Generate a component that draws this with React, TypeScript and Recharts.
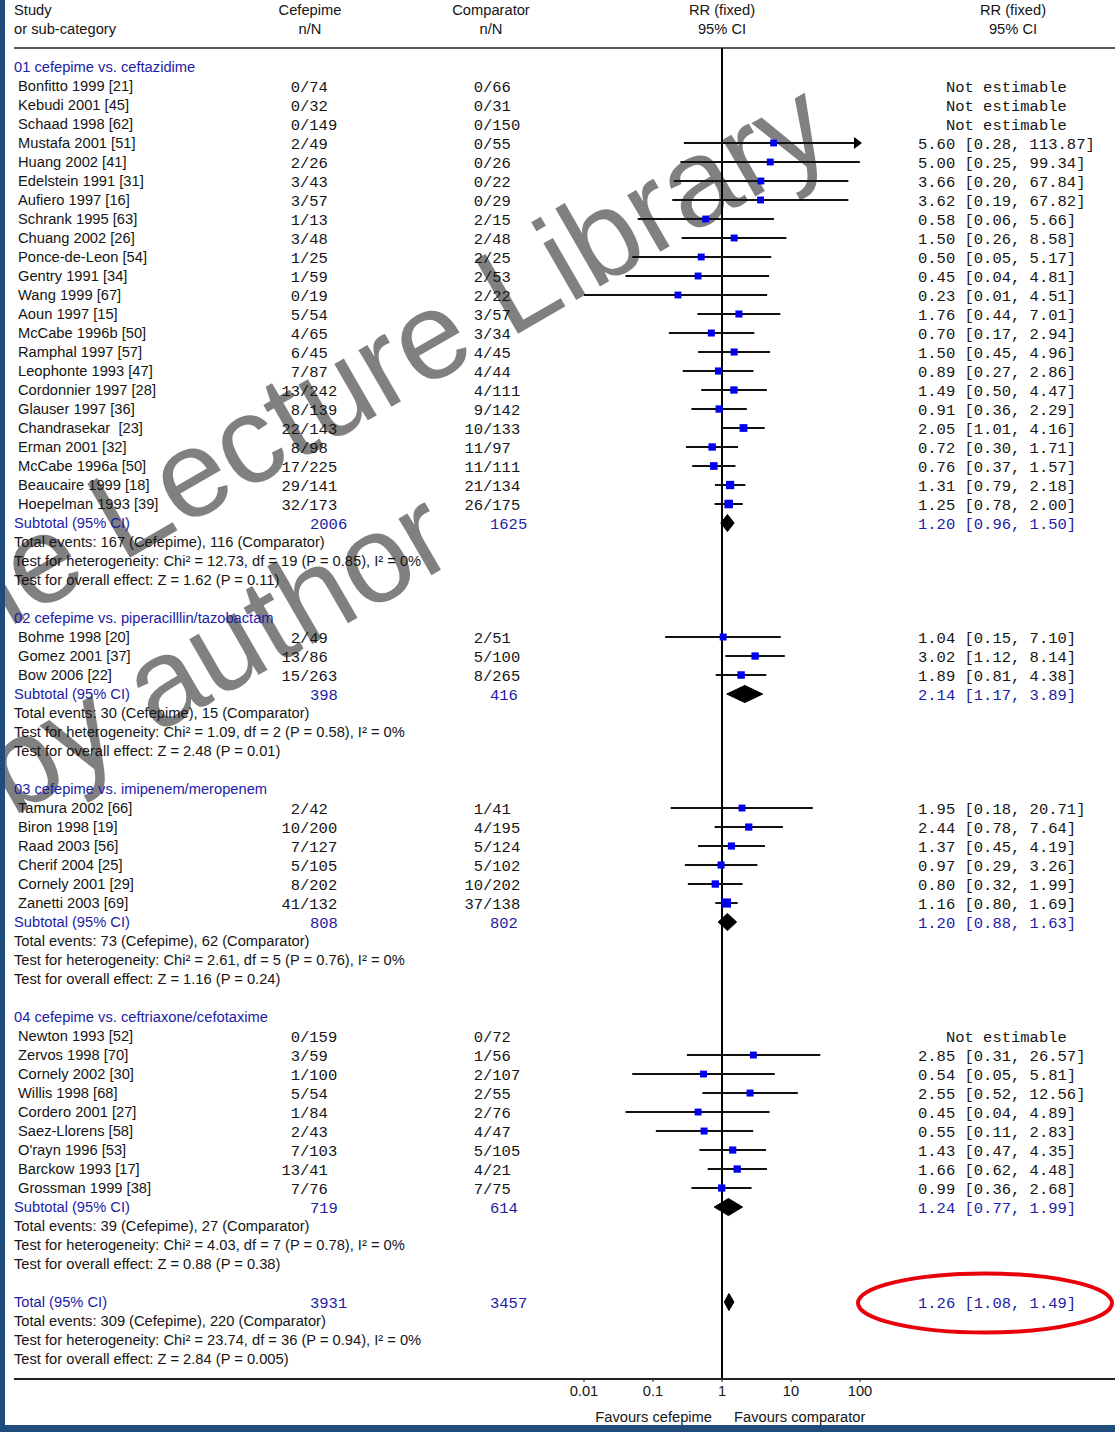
import React from 'react';
import { ComposedChart, XAxis, YAxis, Scatter, ReferenceLine } from 'recharts';

const SANS = '"Liberation Sans", Arial, sans-serif';
const MONO = '"Liberation Mono", "Courier New", monospace';
const BLUE_TEXT = '#1c1ca6';
const INK = '#151515';

// [study, cefepime n, cefepime N, comparator n, comparator N, RR, lower, upper]
type Study = [string, number, number, number, number, number | null, number | null, number | null];

const groupTitles = [
  '01 cefepime vs. ceftazidime',
  '02 cefepime vs. piperacilllin/tazobactam',
  '03 cefepime vs. imipenem/meropenem',
  '04 cefepime vs. ceftriaxone/cefotaxime',
];

const ceftazidimeStudies: Study[] = [
  ['Bonfitto 1999 [21]', 0, 74, 0, 66, null, null, null],
  ['Kebudi 2001 [45]', 0, 32, 0, 31, null, null, null],
  ['Schaad 1998 [62]', 0, 149, 0, 150, null, null, null],
  ['Mustafa 2001 [51]', 2, 49, 0, 55, 5.6, 0.28, 113.87],
  ['Huang 2002 [41]', 2, 26, 0, 26, 5.0, 0.25, 99.34],
  ['Edelstein 1991 [31]', 3, 43, 0, 22, 3.66, 0.2, 67.84],
  ['Aufiero 1997 [16]', 3, 57, 0, 29, 3.62, 0.19, 67.82],
  ['Schrank 1995 [63]', 1, 13, 2, 15, 0.58, 0.06, 5.66],
  ['Chuang 2002 [26]', 3, 48, 2, 48, 1.5, 0.26, 8.58],
  ['Ponce-de-Leon [54]', 1, 25, 2, 25, 0.5, 0.05, 5.17],
  ['Gentry 1991 [34]', 1, 59, 2, 53, 0.45, 0.04, 4.81],
  ['Wang 1999 [67]', 0, 19, 2, 22, 0.23, 0.01, 4.51],
  ['Aoun 1997 [15]', 5, 54, 3, 57, 1.76, 0.44, 7.01],
  ['McCabe 1996b [50]', 4, 65, 3, 34, 0.7, 0.17, 2.94],
  ['Ramphal 1997 [57]', 6, 45, 4, 45, 1.5, 0.45, 4.96],
  ['Leophonte 1993 [47]', 7, 87, 4, 44, 0.89, 0.27, 2.86],
  ['Cordonnier 1997 [28]', 13, 242, 4, 111, 1.49, 0.5, 4.47],
  ['Glauser 1997 [36]', 8, 139, 9, 142, 0.91, 0.36, 2.29],
  ['Chandrasekar  [23]', 22, 143, 10, 133, 2.05, 1.01, 4.16],
  ['Erman 2001 [32]', 8, 98, 11, 97, 0.72, 0.3, 1.71],
  ['McCabe 1996a [50]', 17, 225, 11, 111, 0.76, 0.37, 1.57],
  ['Beaucaire 1999 [18]', 29, 141, 21, 134, 1.31, 0.79, 2.18],
  ['Hoepelman 1993 [39]', 32, 173, 26, 175, 1.25, 0.78, 2.0],
];

const piperacillinStudies: Study[] = [
  ['Bohme 1998 [20]', 2, 49, 2, 51, 1.04, 0.15, 7.1],
  ['Gomez 2001 [37]', 13, 86, 5, 100, 3.02, 1.12, 8.14],
  ['Bow 2006 [22]', 15, 263, 8, 265, 1.89, 0.81, 4.38],
];

const carbapenemStudies: Study[] = [
  ['Tamura 2002 [66]', 2, 42, 1, 41, 1.95, 0.18, 20.71],
  ['Biron 1998 [19]', 10, 200, 4, 195, 2.44, 0.78, 7.64],
  ['Raad 2003 [56]', 7, 127, 5, 124, 1.37, 0.45, 4.19],
  ['Cherif 2004 [25]', 5, 105, 5, 102, 0.97, 0.29, 3.26],
  ['Cornely 2001 [29]', 8, 202, 10, 202, 0.8, 0.32, 1.99],
  ['Zanetti 2003 [69]', 41, 132, 37, 138, 1.16, 0.8, 1.69],
];

const ceftriaxoneStudies: Study[] = [
  ['Newton 1993 [52]', 0, 159, 0, 72, null, null, null],
  ['Zervos 1998 [70]', 3, 59, 1, 56, 2.85, 0.31, 26.57],
  ['Cornely 2002 [30]', 1, 100, 2, 107, 0.54, 0.05, 5.81],
  ['Willis 1998 [68]', 5, 54, 2, 55, 2.55, 0.52, 12.56],
  ['Cordero 2001 [27]', 1, 84, 2, 76, 0.45, 0.04, 4.89],
  ['Saez-Llorens [58]', 2, 43, 4, 47, 0.55, 0.11, 2.83],
  ["O'rayn 1996 [53]", 7, 103, 5, 105, 1.43, 0.47, 4.35],
  ['Barckow 1993 [17]', 13, 41, 4, 21, 1.66, 0.62, 4.48],
  ['Grossman 1999 [38]', 7, 76, 7, 75, 0.99, 0.36, 2.68],
];

// [cefepime N, comparator N, RR, lower, upper]
const subtotals: number[][] = [
  [2006, 1625, 1.2, 0.96, 1.5],
  [398, 416, 2.14, 1.17, 3.89],
  [808, 802, 1.2, 0.88, 1.63],
  [719, 614, 1.24, 0.77, 1.99],
];
const overallTotal: number[] = [3931, 3457, 1.26, 1.08, 1.49];

// [cefepime events, comparator events]; last entry is the overall total
const totalEvents: number[][] = [[167, 116], [30, 15], [73, 62], [39, 27], [309, 220]];
const heterogeneity = [
  'Chi² = 12.73, df = 19 (P = 0.85), I² = 0%',
  'Chi² = 1.09, df = 2 (P = 0.58), I² = 0%',
  'Chi² = 2.61, df = 5 (P = 0.76), I² = 0%',
  'Chi² = 4.03, df = 7 (P = 0.78), I² = 0%',
  'Chi² = 23.74, df = 36 (P = 0.94), I² = 0%',
];
const overallEffect = [
  'Z = 1.62 (P = 0.11)',
  'Z = 2.48 (P = 0.01)',
  'Z = 1.16 (P = 0.24)',
  'Z = 0.88 (P = 0.38)',
  'Z = 2.84 (P = 0.005)',
];

const xTicks = [0.01, 0.1, 1, 10, 100];

// ---- layout ----
const W = 1115;
const H = 1432;
const LEFT = 14;
const TOP = 48;
const AXIS_Y = 1379;
const X0 = 722; // pixel of RR = 1
const DECADE = 69;
const X_MIN = -(X0 - LEFT) / DECADE;
const X_MAX = (W - X0) / DECADE;
const Y_MAX = 69.05;
const CLIP_HI = 2; // log10(100)

const SLASH_CEF = 300;
const SLASH_COMP = 483;
const SUB_CEF = 310;
const SUB_COMP = 490;
const RR_COL = 918;
const CHAR_W = 9.3;

const lg = (v: number) => Math.log10(v);
const fmt = (v: number) => v.toFixed(2);

type Row = {
  row: number;
  kind: 'header' | 'title' | 'study' | 'subtotal' | 'text';
  label?: string;
  study?: Study;
  tot?: number[];
};

const rows: Row[] = [{ row: -1, kind: 'header' }];
const diamonds: { row: number; t: number[] }[] = [];
let cursor = 0;
[ceftazidimeStudies, piperacillinStudies, carbapenemStudies, ceftriaxoneStudies].forEach((studies, g) => {
  rows.push({ row: cursor++, kind: 'title', label: groupTitles[g] });
  studies.forEach((s) => rows.push({ row: cursor++, kind: 'study', study: s }));
  diamonds.push({ row: cursor, t: subtotals[g] });
  rows.push({ row: cursor++, kind: 'subtotal', label: 'Subtotal (95% CI)', tot: subtotals[g] });
  rows.push({ row: cursor++, kind: 'text', label: `Total events: ${totalEvents[g][0]} (Cefepime), ${totalEvents[g][1]} (Comparator)` });
  rows.push({ row: cursor++, kind: 'text', label: `Test for heterogeneity: ${heterogeneity[g]}` });
  rows.push({ row: cursor++, kind: 'text', label: `Test for overall effect: ${overallEffect[g]}` });
  cursor++;
});
diamonds.push({ row: cursor, t: overallTotal });
rows.push({ row: cursor++, kind: 'subtotal', label: 'Total (95% CI)', tot: overallTotal });
rows.push({ row: cursor++, kind: 'text', label: `Total events: ${totalEvents[4][0]} (Cefepime), ${totalEvents[4][1]} (Comparator)` });
rows.push({ row: cursor++, kind: 'text', label: `Test for heterogeneity: ${heterogeneity[4]}` });
rows.push({ row: cursor++, kind: 'text', label: `Test for overall effect: ${overallEffect[4]}` });

const labelPoints = rows.map((r) => ({ ...r, x: 0 }));

const studyRows = rows.filter((r) => r.kind === 'study' && r.study && r.study[5] !== null);
const points = studyRows.map((r) => {
  const s = r.study as Study;
  return { x: lg(s[5] as number), row: r.row, events: s[1] + s[3] };
});
const arrows = studyRows
  .filter((r) => ((r.study as Study)[7] as number) > 100)
  .map((r) => ({ x: CLIP_HI, row: r.row }));

const sans = { fontFamily: SANS, fontSize: 14.7 };
const mono = { fontFamily: MONO, fontSize: 15.5 };

function NN({ x, n, N, fill }: { x: number; n: number; N: number; fill: string }) {
  return (
    <>
      <text x={x} dy="0.36em" textAnchor="end" fill={fill} style={mono}>{n}</text>
      <text x={x} dy="0.36em" textAnchor="start" fill={fill} style={mono}>/{N}</text>
    </>
  );
}

// draws the text columns of one row, placed vertically by the chart's row scale
function RowLabel(props: any) {
  const y = props.cy;
  const r: Row = props.payload;
  if (r.kind === 'header') {
    return (
      <g fill={INK} style={sans}>
        <text x={LEFT} y={y - 38} dy="0.36em">Study</text>
        <text x={LEFT} y={y - 19} dy="0.36em">or sub-category</text>
        <text x={310} y={y - 38} dy="0.36em" textAnchor="middle">Cefepime</text>
        <text x={310} y={y - 19} dy="0.36em" textAnchor="middle">n/N</text>
        <text x={491} y={y - 38} dy="0.36em" textAnchor="middle">Comparator</text>
        <text x={491} y={y - 19} dy="0.36em" textAnchor="middle">n/N</text>
        <text x={X0} y={y - 38} dy="0.36em" textAnchor="middle">RR (fixed)</text>
        <text x={X0} y={y - 19} dy="0.36em" textAnchor="middle">95% CI</text>
        <text x={1013} y={y - 38} dy="0.36em" textAnchor="middle">RR (fixed)</text>
        <text x={1013} y={y - 19} dy="0.36em" textAnchor="middle">95% CI</text>
      </g>
    );
  }
  if (r.kind === 'title') {
    return <text x={LEFT} y={y} dy="0.36em" fill={BLUE_TEXT} style={sans}>{r.label}</text>;
  }
  if (r.kind === 'text') {
    return <text x={LEFT} y={y} dy="0.36em" fill={INK} style={sans}>{r.label}</text>;
  }
  if (r.kind === 'subtotal') {
    const t = r.tot as number[];
    return (
      <g>
        <text x={LEFT} y={y} dy="0.36em" fill={BLUE_TEXT} style={sans}>{r.label}</text>
        <text x={SUB_CEF} y={y} dy="0.36em" fill={BLUE_TEXT} style={mono}>{t[0]}</text>
        <text x={SUB_COMP} y={y} dy="0.36em" fill={BLUE_TEXT} style={mono}>{t[1]}</text>
        <text x={RR_COL} y={y} dy="0.36em" fill={BLUE_TEXT} style={mono}>
          {`${fmt(t[2])} [${fmt(t[3])}, ${fmt(t[4])}]`}
        </text>
      </g>
    );
  }
  const s = r.study as Study;
  return (
    <g transform={`translate(0, ${y})`}>
      <text x={LEFT + 4} dy="0.36em" fill={INK} style={{ ...sans, whiteSpace: 'pre' }}>{s[0]}</text>
      <NN x={SLASH_CEF} n={s[1]} N={s[2]} fill={INK} />
      <NN x={SLASH_COMP} n={s[3]} N={s[4]} fill={INK} />
      {s[5] === null ? (
        <text x={RR_COL + 3 * CHAR_W} dy="0.36em" fill={INK} style={mono}>Not estimable</text>
      ) : (
        <text x={RR_COL} dy="0.36em" fill={INK} style={mono}>
          {`${fmt(s[5])} [${fmt(s[6] as number)}, ${fmt(s[7] as number)}]`}
        </text>
      )}
    </g>
  );
}

const Square = (p: any) => {
  const side = 6.8 + 0.03 * p.payload.events;
  return <rect x={p.cx - side / 2} y={p.cy - side / 2} width={side} height={side} fill="#0000ee" />;
};

const Arrow = (p: any) => (
  <polygon points={`${p.cx - 6},${p.cy - 6} ${p.cx + 2},${p.cy} ${p.cx - 6},${p.cy + 6}`} fill="#000" />
);

const Nothing = () => <g />;

const diamondLine = (p: any) => (
  <polygon points={p.points.map((pt: any) => `${pt.x},${pt.y}`).join(' ')} fill="#000" stroke="#000" strokeWidth={1} />
);

function FavoursLabel(props: any) {
  const vb = props.viewBox;
  const y = vb.y + 38;
  const x1 = vb.x + ((0 - X_MIN) / (X_MAX - X_MIN)) * vb.width;
  return (
    <g fill={INK} style={sans}>
      <text x={x1 - 10} y={y} dy="0.36em" textAnchor="end">Favours cefepime</text>
      <text x={x1 + 12} y={y} dy="0.36em" textAnchor="start">Favours comparator</text>
    </g>
  );
}

export default function App() {
  return (
    <div style={{ position: 'relative', width: W, height: H, background: '#fff', overflow: 'hidden' }}>
      <style>{'body{margin:0;}'}</style>
      <svg width={W} height={H} style={{ position: 'absolute', left: 0, top: 0 }}>
        <g fill="#808080" style={{ fontFamily: SANS, fontSize: 124 }}>
          <text x={372} y={418} textAnchor="middle" transform="rotate(-30 372 418)">The Lecture Library</text>
          <text x={236} y={688} textAnchor="middle" transform="rotate(-30 236 688)">by author</text>
        </g>
      </svg>
      <div style={{ position: 'relative' }}>
        <ComposedChart width={W} height={H} margin={{ top: TOP, right: 0, bottom: 0, left: LEFT }}>
          <XAxis
            type="number"
            dataKey="x"
            domain={[X_MIN, X_MAX]}
            ticks={xTicks.map(lg)}
            tickFormatter={(v: number) => String(Number((10 ** v).toPrecision(2)))}
            height={H - AXIS_Y}
            axisLine={{ stroke: '#222', strokeWidth: 2 }}
            tickLine={{ stroke: '#222' }}
            tickSize={3}
            tickMargin={4}
            tick={{ fill: INK, fontFamily: SANS, fontSize: 14.7 }}
            label={<FavoursLabel />}
          />
          <YAxis type="number" dataKey="row" domain={[-1, Y_MAX]} reversed hide />
          <ReferenceLine y={-1} stroke="#222" strokeWidth={1.5} />
          <ReferenceLine x={0} stroke="#000" strokeWidth={2} />
          {studyRows.map((r) => {
            const s = r.study as Study;
            return (
              <ReferenceLine
                key={`ci-${r.row}`}
                segment={[
                  { x: lg(s[6] as number), y: r.row },
                  { x: Math.min(lg(s[7] as number), CLIP_HI), y: r.row },
                ]}
                stroke="#111"
                strokeWidth={2}
              />
            );
          })}
          <Scatter data={labelPoints} shape={<RowLabel />} isAnimationActive={false} />
          <Scatter data={points} shape={<Square />} isAnimationActive={false} />
          <Scatter data={arrows} shape={<Arrow />} isAnimationActive={false} />
          {diamonds.map((d) => (
            <Scatter
              key={`dm-${d.row}`}
              data={[
                { x: lg(d.t[3]), row: d.row },
                { x: lg(d.t[2]), row: d.row - 0.45 },
                { x: lg(d.t[4]), row: d.row },
                { x: lg(d.t[2]), row: d.row + 0.45 },
              ]}
              shape={<Nothing />}
              line={diamondLine}
              lineType="joint"
              isAnimationActive={false}
            />
          ))}
        </ComposedChart>
      </div>
      <svg width={W} height={H} style={{ position: 'absolute', left: 0, top: 0, pointerEvents: 'none' }}>
        <ellipse cx={985} cy={1303} rx={127} ry={29.5} fill="none" stroke="#e8000b" strokeWidth={4} />
      </svg>
      <div style={{ position: 'absolute', left: 0, top: 0, width: 5, height: H, background: '#1f4b7d' }} />
      <div style={{ position: 'absolute', left: 0, top: H - 7, width: W, height: 7, background: '#1f4b7d' }} />
    </div>
  );
}
